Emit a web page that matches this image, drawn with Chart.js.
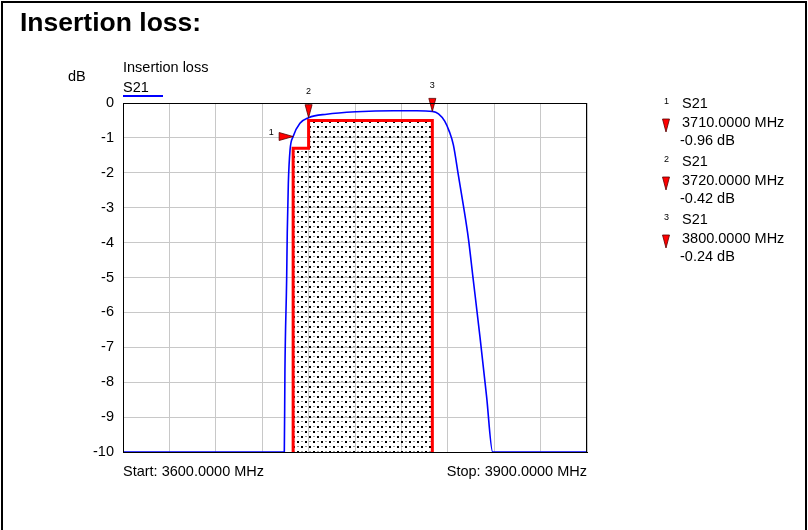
<!DOCTYPE html>
<html>
<head>
<meta charset="utf-8">
<script src="https://cdn.jsdelivr.net/npm/chart.js@4/dist/chart.umd.min.js"></script>
<style>
html,body{margin:0;padding:0;background:#fff;}
#wrap{position:relative;width:808px;height:530px;}
canvas{display:block;}
</style>
</head>
<body>
<div id="wrap"><canvas id="c" width="808" height="530"></canvas></div>
<script>
// ---- data ----
const titleText = "Insertion loss:";
const chartName = "Insertion loss";
const seriesName = "S21";
const yUnit = "dB";
const startLabel = "Start: 3600.0000 MHz";
const stopLabel = "Stop: 3900.0000 MHz";

const xMin = 3600, xMax = 3900, xStep = 30;
const yMin = -10, yMax = 0, yStep = 1;

const s21Freq = [3600, 3704.3, 3704.7, 3705.8, 3706.2, 3706.9, 3708.0, 3710, 3714.4, 3720, 3731.7, 3751, 3775, 3790, 3800, 3804, 3808, 3811, 3813.6, 3816.8, 3820, 3823.3, 3826.1, 3830.8, 3835.1, 3839, 3900];
const s21dB   = [-10, -10, -7.65, -5.07, -3.73, -2.3, -1.35, -0.96, -0.58, -0.42, -0.32, -0.25, -0.22, -0.22, -0.24, -0.31, -0.52, -0.82, -1.2, -2.06, -2.92, -3.88, -4.93, -6.70, -8.42, -10, -10];

const maskFreq = [3710, 3710, 3720, 3720, 3800, 3800];
const maskdB   = [-10, -1.3, -1.3, -0.5, -0.5, -10];

const markerIds  = ["1", "2", "3"];
const markerFreq = [3710, 3720, 3800];
const markerdB   = [-0.96, -0.42, -0.24];
const markerDir  = ["right", "down", "down"];
const markerFreqText = ["3710.0000 MHz", "3720.0000 MHz", "3800.0000 MHz"];
const markerValText  = ["-0.96 dB", "-0.42 dB", "-0.24 dB"];

// ---- styles ----
const FONT = '"Liberation Sans", Arial, Helvetica, sans-serif';
const TXT = 14.5;

function makePattern() {
  const p = document.createElement('canvas');
  p.width = 8; p.height = 10;
  const g = p.getContext('2d');
  g.fillStyle = '#000';
  g.fillRect(1, 1, 2, 2);
  g.fillRect(5, 6, 2, 2);
  g.fillStyle = '#999';
  g.fillRect(5, 1, 2, 1);
  g.fillRect(1, 6, 2, 1);
  return g.createPattern(p, 'repeat');
}

function tri(ctx, x, y, dir) {
  ctx.beginPath();
  if (dir === 'down') {
    ctx.moveTo(x, y);
    ctx.lineTo(x - 3.5, y - 13);
    ctx.lineTo(x + 3.5, y - 13);
  } else {
    ctx.moveTo(x, y);
    ctx.lineTo(x - 14, y - 4);
    ctx.lineTo(x - 14, y + 4);
  }
  ctx.closePath();
  ctx.fillStyle = '#ff0000';
  ctx.fill();
  ctx.lineWidth = 0.8;
  ctx.strokeStyle = '#500';
  ctx.stroke();
}

const decor = {
  id: 'decor',
  afterDatasetsDraw(chart) {
    const ctx = chart.ctx, xs = chart.scales.x, ys = chart.scales.y;
    ctx.save();
    for (let i = 0; i < markerFreq.length; i++) {
      const px = xs.getPixelForValue(markerFreq[i]);
      const py = ys.getPixelForValue(markerdB[i]);
      ctx.save();
      tri(ctx, px, py, markerDir[i]);
      ctx.restore();
      ctx.fillStyle = '#000';
      ctx.font = '9px ' + FONT;
      ctx.textAlign = 'center';
      ctx.textBaseline = 'middle';
      if (markerDir[i] === 'right') ctx.fillText(markerIds[i], px - 22, py - 4);
      else ctx.fillText(markerIds[i], px, py - 26);
    }
    ctx.restore();
  },
  afterDraw(chart) {
    const ctx = chart.ctx, a = chart.chartArea;
    ctx.save();
    // plot frame
    ctx.strokeStyle = '#000';
    ctx.lineWidth = 1;
    ctx.strokeRect(a.left + 0.5, a.top + 0.5, a.right - a.left - 1, a.bottom - a.top);
    // outer frame
    ctx.lineWidth = 2;
    ctx.beginPath();
    ctx.moveTo(2, 540); ctx.lineTo(2, 2); ctx.lineTo(806, 2); ctx.lineTo(806, 540);
    ctx.stroke();
    // title
    ctx.fillStyle = '#000';
    ctx.font = 'bold 26.5px ' + FONT;
    ctx.textAlign = 'left';
    ctx.textBaseline = 'alphabetic';
    ctx.fillText(titleText, 20, 31);
    // legend area
    ctx.font = TXT + 'px ' + FONT;
    ctx.fillText(chartName, a.left, 72);
    ctx.fillText(seriesName, a.left, 92);
    ctx.fillText(yUnit, 68, 81);
    ctx.strokeStyle = '#0000ff';
    ctx.lineWidth = 2;
    ctx.beginPath(); ctx.moveTo(a.left, 96); ctx.lineTo(a.left + 40, 96); ctx.stroke();
    // start/stop
    ctx.fillStyle = '#000';
    ctx.fillText(startLabel, a.left, 476);
    ctx.textAlign = 'right';
    ctx.fillText(stopLabel, a.right, 476);
    // marker table
    ctx.textAlign = 'left';
    ctx.textBaseline = 'middle';
    for (let i = 0; i < markerIds.length; i++) {
      const y0 = 104 + i * 58;
      ctx.font = '9px ' + FONT;
      ctx.fillText(markerIds[i], 664, y0 - 2);
      ctx.font = TXT + 'px ' + FONT;
      ctx.fillText(seriesName, 682, y0);
      ctx.fillText(markerFreqText[i], 682, y0 + 19);
      ctx.fillText(markerValText[i], 680, y0 + 37);
      ctx.save();
      tri(ctx, 666, y0 + 28, 'down');
      ctx.restore();
    }
    ctx.restore();
  }
};

const ctx = document.getElementById('c').getContext('2d');
new Chart(ctx, {
  type: 'line',
  data: {
    datasets: [
      {
        label: seriesName,
        data: s21Freq.map((f, i) => ({x: f, y: s21dB[i]})),
        borderColor: '#0000ff',
        borderWidth: 1.6,
        pointRadius: 0,
        cubicInterpolationMode: 'monotone',
        fill: false,
        order: 1
      },
      {
        label: 'mask',
        data: maskFreq.map((f, i) => ({x: f, y: maskdB[i]})),
        borderColor: '#ff0000',
        borderWidth: 3,
        pointRadius: 0,
        tension: 0,
        backgroundColor: makePattern(),
        fill: 'start',
        order: 2
      }
    ]
  },
  options: {
    responsive: false,
    animation: false,
    devicePixelRatio: 1,
    layout: {padding: {left: 0, top: 103, right: 221, bottom: 78}},
    plugins: {legend: {display: false}, tooltip: {enabled: false}},
    scales: {
      x: {
        type: 'linear', min: xMin, max: xMax,
        ticks: {display: false, stepSize: xStep},
        grid: {color: '#c8c8c8', drawTicks: false, lineWidth: 1},
        border: {display: true, color: '#000'},
        afterFit(s) { s.height = 0; }
      },
      y: {
        min: yMin, max: yMax,
        ticks: {stepSize: yStep, color: '#000', padding: 9, font: {family: FONT, size: TXT}, callback: v => String(v)},
        grid: {color: '#c8c8c8', drawTicks: false, lineWidth: 1},
        border: {display: true, color: '#000'},
        afterFit(s) { s.width = 123; }
      }
    }
  },
  plugins: [decor]
});
</script>
</body>
</html>
